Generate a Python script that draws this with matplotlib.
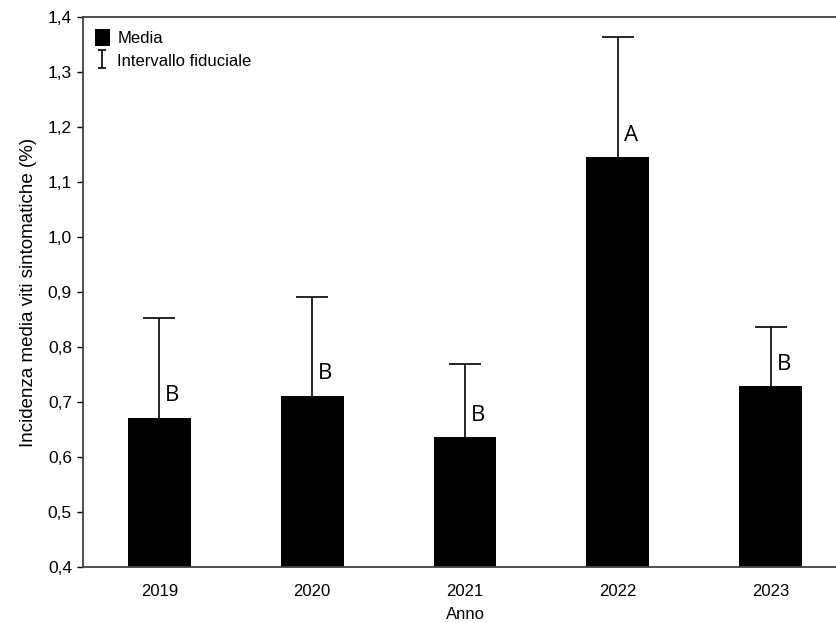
import matplotlib.pyplot as plt
from matplotlib.patches import Patch
from matplotlib.lines import Line2D
from matplotlib.path import Path

anni = ["2019", "2020", "2021", "2022", "2023"]
media = [0.671, 0.711, 0.636, 1.145, 0.729]
limite_sup = [0.853, 0.891, 0.769, 1.364, 0.836]
lettere = ["B", "B", "B", "A", "B"]
y_ticks = [0.4, 0.5, 0.6, 0.7, 0.8, 0.9, 1.0, 1.1, 1.2, 1.3, 1.4]

plt.rcParams["font.family"] = ["Liberation Sans", "DejaVu Sans"]

fig = plt.figure(figsize=(8.36, 6.23), dpi=100)
ax = fig.add_axes([83 / 836, 56 / 623, 764 / 836, 550 / 623])

x = list(range(len(anni)))
err_up = [s - m for s, m in zip(limite_sup, media)]
err_down = [0] * len(media)

ax.bar(x, media, width=0.41, color="black", zorder=2)
eb = ax.errorbar(x, media, yerr=[err_down, err_up], fmt="none", ecolor="black",
                 elinewidth=1.2, capsize=11.5, capthick=1.2, zorder=3)
# only the upper half of the interval is shown: drop the lower caps
eb[1][0].set_data([], [])

for xi, m, lab in zip(x, media, lettere):
    ax.text(xi + 0.085, m + 0.04, lab, fontsize=16, ha="center", va="center",
            family=["Open Sans", "DejaVu Sans"])

ax.set_xlim(-0.5, 4.5)
ax.set_ylim(0.4, 1.4)
ax.set_xticks(x)
ax.set_xticklabels(anni, fontsize=12)
ax.set_yticks(y_ticks)
ax.set_yticklabels([f"{v:.1f}".replace(".", ",") for v in y_ticks], fontsize=12.5)
ax.tick_params(axis="x", length=0, pad=12)
ax.tick_params(axis="y", length=4, width=1, pad=4)
ax.set_xlabel("Anno", fontsize=12, labelpad=6)
ax.set_ylabel("Incidenza media viti sintomatiche (%)", fontsize=13.5, labelpad=8)

for s in ["left", "bottom", "top", "right"]:
    ax.spines[s].set_color("#404040")
    ax.spines[s].set_linewidth(1.3)

# "I" shaped glyph for the confidence interval in the legend
i_path = Path([(-0.45, -1), (0.45, -1), (0, -1), (0, 1), (-0.45, 1), (0.45, 1)],
              [Path.MOVETO, Path.LINETO, Path.MOVETO, Path.LINETO,
               Path.MOVETO, Path.LINETO])
proxy = Line2D([], [], linestyle="none", marker=i_path, markersize=13,
               markerfacecolor="none", markeredgecolor="black",
               markeredgewidth=1.2)

ax.legend([Patch(facecolor="black"), proxy], ["Media", "Intervallo fiduciale"],
          loc="upper left", frameon=False, fontsize=12, handlelength=0.9,
          handleheight=1.2, handletextpad=0.45, labelspacing=0.35,
          borderaxespad=0.3, bbox_to_anchor=(0.0, 1.0))

fig.savefig("out.png", dpi=100)
